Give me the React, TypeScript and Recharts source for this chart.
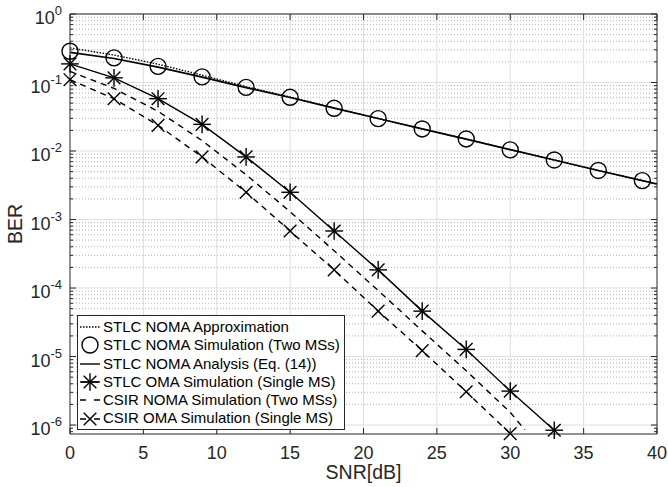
import { LineChart, Line, XAxis, YAxis, CartesianGrid, ReferenceLine, Legend } from "recharts"

// plot frame (pixels) used by the hand drawn tick marks
const PLOT_L = 70
const PLOT_R = 657
const PLOT_T = 14
const PLOT_B = 434
const INK = "#262626"
const FONT = "'Liberation Sans', Arial, Helvetica, sans-serif"

// STLC NOMA, two MSs
const simSnr = [0, 3, 6, 9, 12, 15, 18, 21, 24, 27, 30, 33, 36, 39]
const simBer = [0.286, 0.229, 0.172, 0.121, 0.085, 0.0608, 0.042, 0.0297, 0.021, 0.015, 0.0104, 0.0074, 0.0052, 0.0037]
const analysisSnr = [0, 3, 6, 9, 12, 15, 18, 21, 24, 27, 30, 33, 36, 39, 40]
const analysisBer = [0.275, 0.224, 0.168, 0.12, 0.084, 0.0605, 0.0422, 0.0298, 0.021, 0.0149, 0.0105, 0.0074, 0.0052, 0.0037, 0.0033]
const approxSnr = [0, 3, 6, 9, 12, 15, 18, 21, 24, 27, 30, 33, 36, 39, 40]
const approxBer = [0.32, 0.252, 0.185, 0.128, 0.087, 0.0615, 0.0425, 0.0298, 0.021, 0.0149, 0.0105, 0.0074, 0.0052, 0.0037, 0.0033]

// STLC OMA, single MS
const omaSnr = [0, 3, 6, 9, 12, 15, 18, 21, 24, 27, 30, 33]
const omaBer = [0.187, 0.117, 0.058, 0.0245, 0.0082, 0.0025, 6.8e-4, 1.84e-4, 4.6e-5, 1.27e-5, 3.13e-6, 8.4e-7]

// CSIR curves
const csirNomaSnr = [0, 3, 6, 9, 12, 15, 18, 21, 24, 27, 30, 31]
const csirNomaBer = [0.145, 0.082, 0.038, 0.0142, 0.0045, 0.0013, 3.5e-4, 9.2e-5, 2.37e-5, 6.2e-6, 1.53e-6, 8.5e-7]
const csirOmaSnr = [0, 3, 6, 9, 12, 15, 18, 21, 24, 27, 30]
const csirOmaBer = [0.11, 0.058, 0.0237, 0.0082, 0.0025, 6.8e-4, 1.84e-4, 4.6e-5, 1.22e-5, 3.06e-6, 7.5e-7]

const xTicks = [0, 5, 10, 15, 20, 25, 30, 35, 40]
const xGrid = [5, 10, 15, 20, 25, 30, 35]
const decades = [1e-6, 1e-5, 1e-4, 1e-3, 1e-2, 1e-1, 1]
const minorY = decades.slice(0, -1).flatMap((d) => [2, 3, 4, 5, 6, 7, 8, 9].map((m) => m * d))
const minorBelow = [8e-7, 9e-7]
const yTicks = [...minorBelow, ...decades, ...minorY].sort((a, b) => a - b)

const toPoints = (snr: number[], ber: number[]) => snr.map((s, i) => ({ snr: s, ber: ber[i] }))

const Circle = (p: any) => (
  <circle key={p.key ?? `c-${p.index}`} cx={p.cx} cy={p.cy} r={8} fill="none" stroke="#000" strokeWidth={1.4} />
)

const Star = (p: any) => {
  const { cx, cy } = p
  const r = 8.8
  const d = r * 0.72
  return (
    <g key={p.key ?? `s-${p.index}`} stroke="#000" strokeWidth={1.4}>
      <line x1={cx - r} x2={cx + r} y1={cy} y2={cy} />
      <line x1={cx} x2={cx} y1={cy - r} y2={cy + r} />
      <line x1={cx - d} x2={cx + d} y1={cy - d} y2={cy + d} />
      <line x1={cx - d} x2={cx + d} y1={cy + d} y2={cy - d} />
    </g>
  )
}

const Cross = (p: any) => {
  const { cx, cy } = p
  const d = 6.3
  return (
    <g key={p.key ?? `x-${p.index}`} stroke="#000" strokeWidth={1.4}>
      <line x1={cx - d} x2={cx + d} y1={cy - d} y2={cy + d} />
      <line x1={cx - d} x2={cx + d} y1={cy + d} y2={cy - d} />
    </g>
  )
}

function XTick(props: any) {
  const { x, payload } = props
  return (
    <g>
      <line x1={x} x2={x} y1={PLOT_B} y2={PLOT_B - 6} stroke={INK} />
      <line x1={x} x2={x} y1={PLOT_T} y2={PLOT_T + 6} stroke={INK} />
      <text x={x} y={PLOT_B + 24.5} textAnchor="middle" fontSize={18} fill={INK} fontFamily={FONT}>
        {payload.value}
      </text>
    </g>
  )
}

function YTick(props: any) {
  const { y, payload } = props
  const lg = Math.log10(payload.value)
  const exp = Math.round(lg)
  const major = Math.abs(lg - exp) < 1e-6
  const len = major ? 6 : 3
  return (
    <g>
      <line x1={PLOT_L} x2={PLOT_L + len} y1={y} y2={y} stroke={INK} />
      <line x1={PLOT_R - len} x2={PLOT_R} y1={y} y2={y} stroke={INK} />
      {major && (
        <text x={62} y={y + 10} textAnchor="end" fontSize={18} fill={INK} fontFamily={FONT}>
          10
          <tspan dy={-9} fontSize={13}>
            {exp}
          </tspan>
        </text>
      )}
    </g>
  )
}

const legendItems = [
  { label: "STLC NOMA Approximation", kind: "dotted" },
  { label: "STLC NOMA Simulation (Two MSs)", kind: "circle" },
  { label: "STLC NOMA Analysis (Eq. (14))", kind: "solid" },
  { label: "STLC OMA Simulation (Single MS)", kind: "star" },
  { label: "CSIR NOMA Simulation (Two MSs)", kind: "dashed" },
  { label: "CSIR OMA Simulation (Single MS)", kind: "cross" },
]

function LegendIcon({ kind }: { kind: string }) {
  const line = (dash?: string) => (
    <line x1={1} x2={21} y1={9} y2={9} stroke="#000" strokeWidth={1.4} strokeDasharray={dash} />
  )
  return (
    <svg width={22} height={18} style={{ display: "block", overflow: "visible" }}>
      {kind === "dotted" && line("1.5 1.5")}
      {kind === "solid" && line()}
      {kind === "dashed" && line("6 8")}
      {kind === "circle" && <Circle cx={11} cy={9} index={0} />}
      {kind === "star" && (
        <>
          {line()}
          <Star cx={11} cy={9} index={0} />
        </>
      )}
      {kind === "cross" && (
        <>
          {line("6 8")}
          <Cross cx={11} cy={9} index={0} />
        </>
      )}
    </svg>
  )
}

function LegendBox() {
  return (
    <div
      style={{
        border: `1px solid ${INK}`,
        background: "#fff",
        padding: "2px 4px 1px 1px",
        fontFamily: FONT,
        fontSize: 15,
        color: "#000",
        lineHeight: "18.3px",
      }}
    >
      {legendItems.map((it) => (
        <div key={it.label} style={{ display: "flex", alignItems: "center", height: 18.3, whiteSpace: "nowrap" }}>
          <LegendIcon kind={it.kind} />
          <span style={{ marginLeft: 2 }}>{it.label}</span>
        </div>
      ))}
    </div>
  )
}

export default function App() {
  return (
    <div style={{ position: "absolute", left: 0, top: 0, background: "#fff" }}>
      <LineChart width={668} height={487} margin={{ top: PLOT_T, right: 668 - PLOT_R, left: 10, bottom: 23 }}>
        <CartesianGrid horizontalValues={minorY} vertical={false} stroke="#b2b2b2" strokeDasharray="1 2" />
        <CartesianGrid horizontalValues={decades} verticalValues={xGrid} stroke="#dedede" />
        <XAxis
          dataKey="snr"
          type="number"
          domain={[0, 40]}
          ticks={xTicks}
          interval={0}
          tickLine={false}
          axisLine={{ stroke: INK }}
          tick={<XTick />}
          height={30}
          label={{ value: "SNR[dB]", position: "bottom", offset: 1, fontSize: 19.5, fill: INK, fontFamily: FONT }}
        />
        <YAxis
          dataKey="ber"
          scale="log"
          domain={[7.4e-7, 1]}
          ticks={yTicks}
          interval={0}
          tickLine={false}
          axisLine={{ stroke: INK }}
          tick={<YTick />}
          width={60}
          label={{
            content: () => (
              <text
                x={22}
                y={224}
                transform="rotate(-90, 22, 224)"
                textAnchor="middle"
                fontSize={19.5}
                fill={INK}
                fontFamily={FONT}
              >
                BER
              </text>
            ),
          }}
        />
        <ReferenceLine y={1} stroke={INK} />
        <ReferenceLine x={40} stroke={INK} />
        <Line
          data={toPoints(approxSnr, approxBer)}
          dataKey="ber"
          stroke="#000"
          strokeWidth={1.4}
          strokeDasharray="1.5 1.5"
          dot={false}
          activeDot={false}
          isAnimationActive={false}
        />
        <Line
          data={toPoints(simSnr, simBer)}
          dataKey="ber"
          stroke="none"
          dot={Circle}
          activeDot={false}
          isAnimationActive={false}
        />
        <Line
          data={toPoints(analysisSnr, analysisBer)}
          dataKey="ber"
          stroke="#000"
          strokeWidth={1.7}
          dot={false}
          activeDot={false}
          isAnimationActive={false}
        />
        <Line
          data={toPoints(omaSnr, omaBer)}
          dataKey="ber"
          stroke="#000"
          strokeWidth={1.4}
          dot={Star}
          activeDot={false}
          isAnimationActive={false}
        />
        <Line
          data={toPoints(csirNomaSnr, csirNomaBer)}
          dataKey="ber"
          stroke="#000"
          strokeWidth={1.4}
          strokeDasharray="6 5"
          dot={false}
          activeDot={false}
          isAnimationActive={false}
        />
        <Line
          data={toPoints(csirOmaSnr, csirOmaBer)}
          dataKey="ber"
          stroke="#000"
          strokeWidth={1.4}
          strokeDasharray="6 5"
          dot={Cross}
          activeDot={false}
          isAnimationActive={false}
        />
        <Legend
          layout="vertical"
          align="center"
          verticalAlign="middle"
          content={() => <LegendBox />}
          wrapperStyle={{ left: 77, top: 315, width: "auto" }}
        />
      </LineChart>
    </div>
  )
}
